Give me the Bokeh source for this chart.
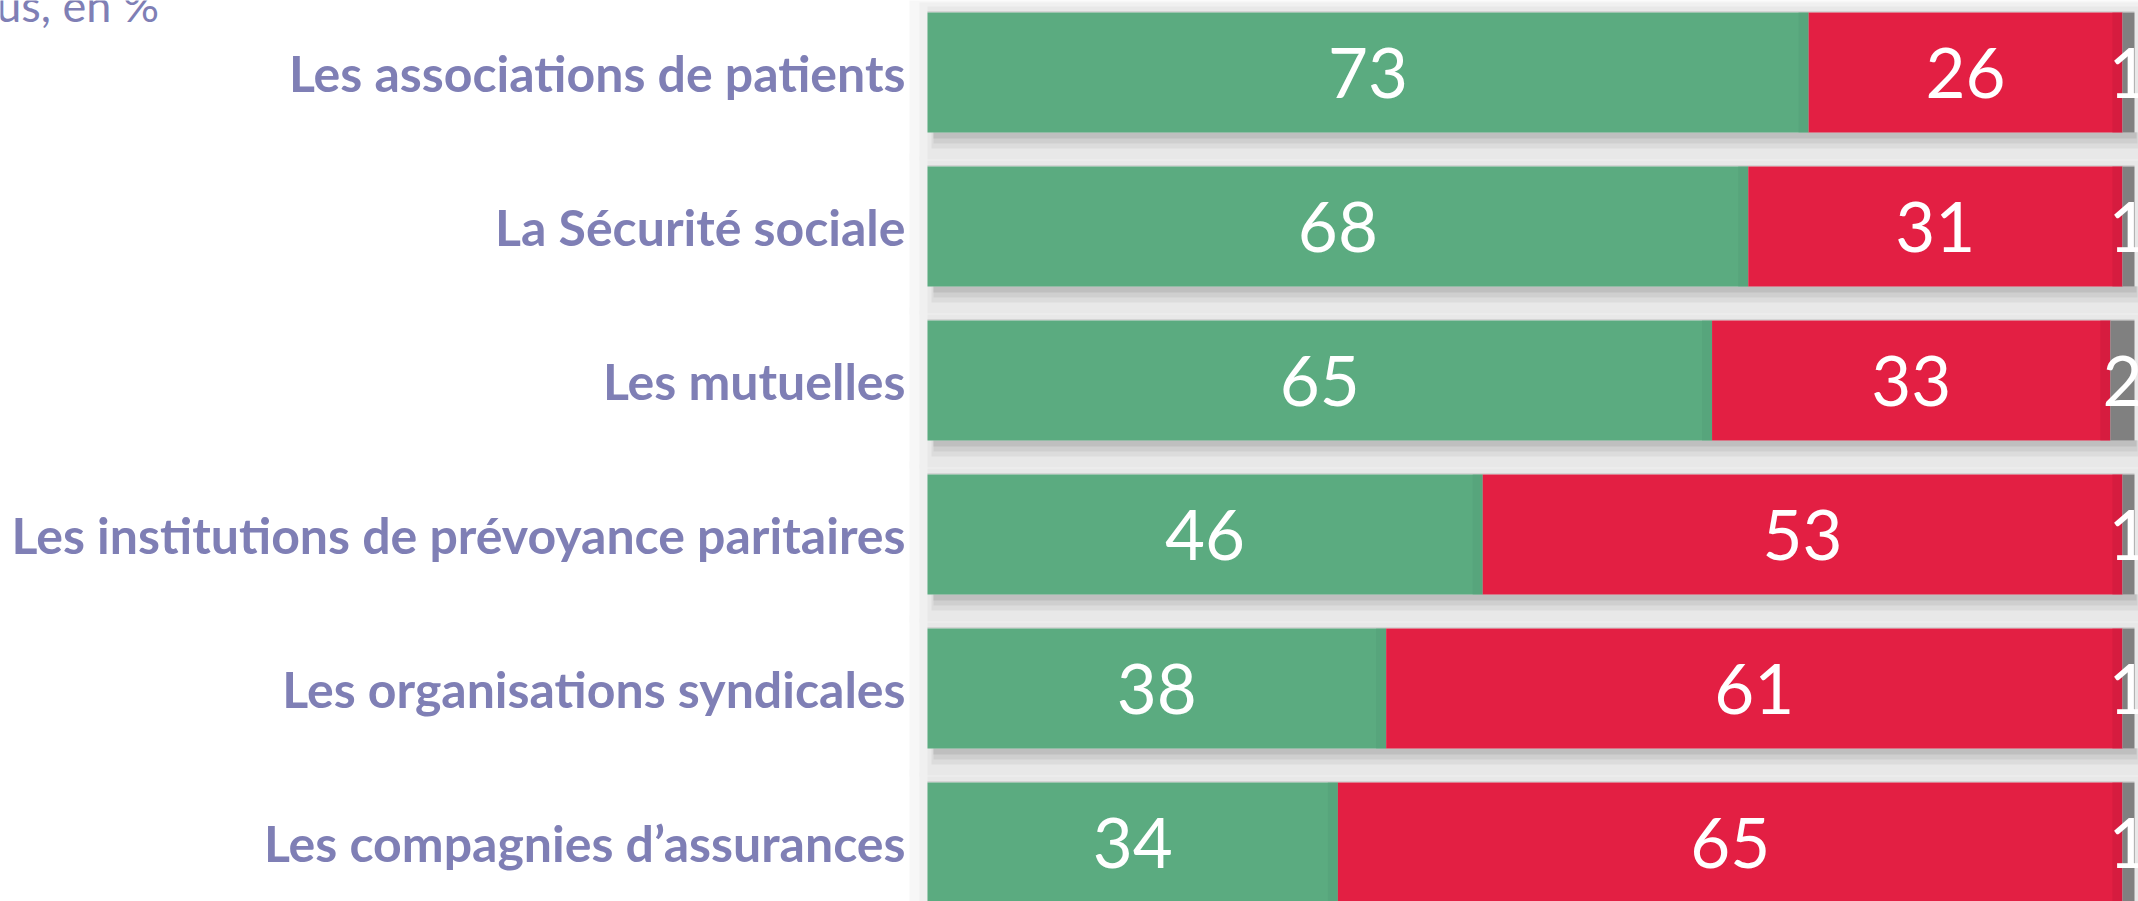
from bokeh.plotting import figure
from bokeh.models import Range1d
from bokeh.core.properties import value
from bokeh.embed import file_html
from bokeh.resources import INLINE

categories = [
    "Les associations de patients",
    "La Sécurité sociale",
    "Les mutuelles",
    "Les institutions de prévoyance paritaires",
    "Les organisations syndicales",
    "Les compagnies d’assurances",
]
oui = [73, 68, 65, 46, 38, 34]
non = [26, 31, 33, 53, 61, 65]
nsp = [1, 1, 2, 1, 1, 1]
subtitle = "À tous, en %"

W, H = 2138, 901
X0_PX = 927.0          # pixel of value 0
PXX = 1207.0 / 100.0   # pixels per percent
Y0_PX = 72.0           # pixel centre of first bar
PXY = 154.0            # pixels per row
BAR_H = 120.0 / PXY

def dx(px):
    return px / PXX

def dy(px):
    return px / PXY

x_start = -X0_PX / PXX
x_end = (W - X0_PX) / PXX
y_top = -Y0_PX / PXY
y_bot = (H - Y0_PX) / PXY

p = figure(width=W, height=H, output_backend="svg", toolbar_location=None,
           x_range=Range1d(x_start, x_end), y_range=Range1d(y_bot, y_top),
           min_border=0, outline_line_color=None)
p.axis.visible = False
p.grid.visible = False
p.background_fill_color = "white"
p.border_fill_color = "white"

n = len(categories)
ys = list(range(n))
tops = [y - BAR_H / 2 for y in ys]
bots = [y + BAR_H / 2 for y in ys]
total = [a + b + c for a, b, c in zip(oui, non, nsp)]

# shadow layers behind bars
p.quad(left=[dx(-18)] * n, right=[t + dx(6) for t in total],
       top=[t - dy(13) for t in tops], bottom=[b + dy(28) for b in bots],
       fill_color="#f7f7f7", line_color=None)
p.quad(left=[dx(-8)] * n, right=[t + dx(5) for t in total],
       top=[t - dy(10) for t in tops], bottom=[b + dy(28) for b in bots],
       fill_color="#f0f0f0", line_color=None)
p.quad(left=[dx(0)] * n, right=[t + dx(4) for t in total],
       top=[t - dy(6) for t in tops], bottom=[b + dy(27) for b in bots],
       fill_color="#e8e8e8", line_color=None)
p.quad(left=[dx(4)] * n, right=[t + dx(4) for t in total],
       top=bots, bottom=[b + dy(16) for b in bots],
       fill_color="#dcdcdc", line_color=None)
p.quad(left=[dx(6)] * n, right=[t + dx(3) for t in total],
       top=bots, bottom=[b + dy(11) for b in bots],
       fill_color="#cfcfcf", line_color=None)
p.quad(left=[dx(6)] * n, right=[t + dx(2) for t in total],
       top=bots, bottom=[b + dy(6) for b in bots],
       fill_color="#bfbfbf", line_color=None)
p.quad(left=[0] * n, right=total,
       top=[t - dy(1.5) for t in tops], bottom=tops,
       fill_color="#d4d4d4", line_color=None)

# stacked segments
g_l = [0] * n
g_r = oui
r_l = oui
r_r = [a + b for a, b in zip(oui, non)]
k_l = r_r
k_r = total

p.quad(left=g_l, right=g_r, top=tops, bottom=bots, fill_color="#5BAB80", line_color=None)
p.quad(left=[r - dx(10) for r in g_r], right=g_r, top=tops, bottom=bots,
       fill_color="#53a077", fill_alpha=0.5, line_color=None)
p.quad(left=r_l, right=r_r, top=tops, bottom=bots, fill_color="#E31F43", line_color=None)
p.quad(left=[r - dx(10) for r in r_r], right=r_r, top=tops, bottom=bots,
       fill_color="#c91a3b", fill_alpha=0.5, line_color=None)
p.quad(left=k_l, right=k_r, top=tops, bottom=bots, fill_color="#808080", line_color=None)

# value labels
lab_x, lab_y, lab_t = [], [], []
for i in range(n):
    for l, r, v in ((g_l[i], g_r[i], oui[i]), (r_l[i], r_r[i], non[i]), (k_l[i], k_r[i], nsp[i])):
        lab_x.append((l + r) / 2)
        lab_y.append(ys[i])
        lab_t.append(str(v))
p.text(x=lab_x, y=lab_y, text=lab_t, text_color="white", text_font=value("Lato"),
       text_font_size="69px", text_align="center", text_baseline="middle")

# category labels
p.text(x=[dx(-22)] * n, y=ys, text=categories, text_color="#7F7FB5",
       text_font=value("Lato"), text_font_style="bold", text_font_size="50px",
       text_align="right", text_baseline="middle")

# cropped subtitle at top-left
p.text(x=[dx(160 - X0_PX)], y=[dy(4 - Y0_PX)], text=[subtitle], text_color="#7F7FB5",
       text_font=value("Lato"), text_font_size="45px",
       text_align="right", text_baseline="alphabetic")

open("out.html", "w").write(file_html(p, INLINE))
